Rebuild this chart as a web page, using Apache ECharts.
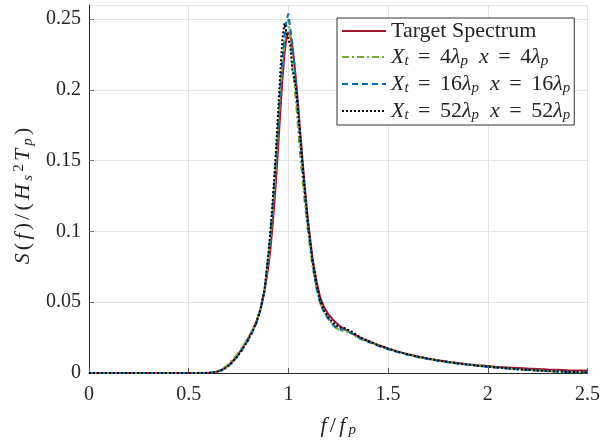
<!DOCTYPE html>
<html>
<head>
<meta charset="utf-8">
<script src="https://cdn.jsdelivr.net/npm/echarts@6/dist/echarts.min.js"></script>
<style>
html,body{margin:0;padding:0;background:#fff;}
#chart{width:603px;height:443px;}
</style>
</head>
<body>
<div id="chart"></div>
<script>
// ---- data ----
var freq = [0, 0.5, 0.6, 0.62, 0.64, 0.66, 0.68, 0.70, 0.72, 0.74, 0.76, 0.78, 0.80, 0.82, 0.84, 0.86, 0.88, 0.90,
  0.91, 0.92, 0.93, 0.94, 0.95, 0.96, 0.97, 0.98, 0.99, 1.00, 1.01, 1.02, 1.03, 1.04, 1.05, 1.06, 1.07, 1.08, 1.09, 1.10,
  1.12, 1.14, 1.16, 1.18, 1.20, 1.22, 1.24, 1.26, 1.28, 1.30, 1.32, 1.34, 1.36, 1.38, 1.40,
  1.45, 1.50, 1.55, 1.60, 1.65, 1.70, 1.75, 1.80, 1.85, 1.90, 1.95, 2.00, 2.05, 2.10, 2.15, 2.20, 2.25, 2.30, 2.35, 2.40, 2.45, 2.50];

var targetS = [0, 0, 0.0001, 0.0004, 0.0009, 0.0019, 0.0034, 0.0055, 0.0083, 0.0117, 0.0157, 0.0201, 0.0249, 0.0303, 0.0367, 0.0452, 0.0574, 0.0757,
  0.0881, 0.1029, 0.1207, 0.1409, 0.1629, 0.1857, 0.2072, 0.2249, 0.2368, 0.2408, 0.2382, 0.2307, 0.2189, 0.2040, 0.1871, 0.1693, 0.1520, 0.1350, 0.1196, 0.1059,
  0.0820, 0.0655, 0.0530, 0.0462, 0.0415, 0.0382, 0.0354, 0.0330, 0.0311, 0.0294, 0.0279, 0.0265, 0.0251, 0.0238, 0.0226,
  0.0198, 0.0173, 0.0151, 0.0133, 0.0116, 0.0102, 0.0090, 0.0079, 0.0070, 0.0062, 0.0055, 0.0049, 0.0043, 0.0039, 0.0035, 0.0031, 0.0028, 0.0025, 0.0023, 0.0020, 0.0018, 0.0017];

var x4S = [0, 0, 0.0002, 0.0005, 0.0011, 0.0022, 0.0040, 0.0063, 0.0095, 0.0128, 0.0166, 0.0208, 0.0252, 0.0300, 0.0360, 0.0450, 0.0585, 0.0800,
  0.0950, 0.1110, 0.1300, 0.1520, 0.1760, 0.1980, 0.2180, 0.2330, 0.2440, 0.2500, 0.2370, 0.2200, 0.2040, 0.1880, 0.1700, 0.1520, 0.1380, 0.1230, 0.1100, 0.0980,
  0.0760, 0.0600, 0.0490, 0.0430, 0.0380, 0.0350, 0.0320, 0.0295, 0.0300, 0.0290, 0.0275, 0.0255, 0.0240, 0.0232, 0.0222,
  0.0195, 0.0170, 0.0150, 0.0130, 0.0113, 0.0100, 0.0088, 0.0077, 0.0068, 0.0059, 0.0052, 0.0044, 0.0038, 0.0032, 0.0027, 0.0022, 0.0018, 0.0014, 0.0011, 0.0008, 0.0006, 0.0005];

var x16S = [0, 0, 0.0001, 0.0003, 0.0008, 0.0016, 0.0030, 0.0050, 0.0076, 0.0108, 0.0146, 0.0188, 0.0236, 0.0290, 0.0355, 0.0445, 0.0580, 0.0830,
  0.0990, 0.1160, 0.1360, 0.1580, 0.1800, 0.2020, 0.2210, 0.2370, 0.2490, 0.2540, 0.2430, 0.2320, 0.2180, 0.2010, 0.1830, 0.1650, 0.1480, 0.1310, 0.1160, 0.1020,
  0.0790, 0.0610, 0.0490, 0.0425, 0.0385, 0.0345, 0.0315, 0.0305, 0.0310, 0.0295, 0.0278, 0.0262, 0.0245, 0.0232, 0.0220,
  0.0192, 0.0168, 0.0147, 0.0128, 0.0112, 0.0098, 0.0086, 0.0075, 0.0066, 0.0058, 0.0050, 0.0043, 0.0037, 0.0031, 0.0026, 0.0021, 0.0017, 0.0013, 0.0010, 0.0007, 0.0005, 0.0004];

var x52S = [0, 0, 0.0001, 0.0003, 0.0008, 0.0017, 0.0031, 0.0051, 0.0078, 0.0110, 0.0148, 0.0190, 0.0238, 0.0292, 0.0358, 0.0448, 0.0590, 0.0850,
  0.1010, 0.1190, 0.1400, 0.1630, 0.1880, 0.2140, 0.2360, 0.2470, 0.2410, 0.2360, 0.2310, 0.2140, 0.2080, 0.1980, 0.1820, 0.1650, 0.1480, 0.1320, 0.1170, 0.1030,
  0.0800, 0.0630, 0.0510, 0.0440, 0.0395, 0.0360, 0.0335, 0.0320, 0.0318, 0.0305, 0.0290, 0.0270, 0.0250, 0.0238, 0.0226,
  0.0197, 0.0172, 0.0150, 0.0131, 0.0115, 0.0101, 0.0089, 0.0078, 0.0068, 0.0060, 0.0052, 0.0045, 0.0039, 0.0033, 0.0027, 0.0022, 0.0018, 0.0014, 0.0011, 0.0008, 0.0006, 0.0005];

var xTicks = {min: 0, max: 2.5, interval: 0.5};
var yTicks = {min: 0, max: 0.26, interval: 0.05};

// ---- chart ----
function zip(xs, ys) { return xs.map(function (x, i) { return [x, ys[i]]; }); }

var FONT = '"Liberation Serif", "Times New Roman", serif';
var TXT = '#262626';

function makeRich(size, pad, lh) {
  var p = [0, pad, 0, pad];
  var s = Math.round(size * 0.68);
  return {
    n: {fontFamily: FONT, fontSize: size, lineHeight: lh, color: TXT, padding: p},
    i: {fontFamily: FONT, fontSize: size, lineHeight: lh, fontStyle: 'italic', color: TXT, padding: p},
    eq: {fontFamily: FONT, fontSize: size, lineHeight: lh, color: TXT, padding: [0, 4, 0, 4]},
    sub: {fontFamily: FONT, fontSize: s, lineHeight: Math.round(lh * 0.55), fontStyle: 'italic', verticalAlign: 'bottom', color: TXT, padding: p},
    sup: {fontFamily: FONT, fontSize: s, lineHeight: Math.round(lh * 0.55), verticalAlign: 'top', color: TXT, padding: p}
  };
}
var legendRich = makeRich(22, 0, 24);
var nameRich = makeRich(22, 1.6, 24);

var legendLabels = {
  'Target Spectrum': '{n|Target Spectrum}',
  'X4': '{i|X}{sub|t}{eq| = }{n|4}{i|λ}{sub|p}{n|  }{i|x}{eq| = }{n|4}{i|λ}{sub|p}',
  'X16': '{i|X}{sub|t}{eq| = }{n|16}{i|λ}{sub|p}{n|  }{i|x}{eq| = }{n|16}{i|λ}{sub|p}',
  'X52': '{i|X}{sub|t}{eq| = }{n|52}{i|λ}{sub|p}{n|  }{i|x}{eq| = }{n|52}{i|λ}{sub|p}'
};

var chart = echarts.init(document.getElementById('chart'), null, {renderer: 'canvas'});
chart.setOption({
  animation: false,
  backgroundColor: '#fff',
  grid: {left: 89, right: 15, top: 5, bottom: 67, containLabel: false},
  legend: {
    orient: 'vertical',
    left: 337, top: 18,
    padding: [2, 4, 2, 4],
    itemWidth: 44, itemHeight: 14, itemGap: 4, itemTextGap: 5,
    backgroundColor: '#fff',
    borderColor: '#333', borderWidth: 1, borderRadius: 0,
    itemStyle: {opacity: 0},
    textStyle: {fontFamily: FONT, fontSize: 22, color: TXT, rich: legendRich},
    formatter: function (name) { return legendLabels[name]; },
    data: ['Target Spectrum', 'X4', 'X16', 'X52']
  },
  xAxis: {
    type: 'value', min: xTicks.min, max: xTicks.max, interval: xTicks.interval,
    name: '{i|f}{n|/}{i|f}{sub|p}', nameLocation: 'middle', nameGap: 41,
    nameTextStyle: {rich: nameRich},
    axisLine: {show: true, onZero: false, lineStyle: {color: TXT, width: 1}},
    axisTick: {show: true, inside: true, length: 5, lineStyle: {color: '#555'}},
    axisLabel: {margin: 12, fontFamily: FONT, fontSize: 20, color: TXT},
    splitLine: {show: true, lineStyle: {color: '#e3e3e3', width: 1}}
  },
  yAxis: {
    type: 'value', min: yTicks.min, max: yTicks.max, interval: yTicks.interval,
    name: '{i|S}{n|(}{i|f}{n|)}{n|/}{n|(}{i|H}{sub|s}{sup|2}{i|T}{sub|p}{n|)}',
    nameLocation: 'middle', nameGap: 52, nameRotate: 90,
    nameTextStyle: {rich: nameRich, padding: [0, 14, 0, 0]},
    axisLine: {show: true, onZero: false, lineStyle: {color: TXT, width: 1}},
    axisTick: {show: true, inside: true, length: 5, lineStyle: {color: '#777'}},
    axisLabel: {margin: 8, fontFamily: FONT, fontSize: 20, color: TXT},
    splitLine: {show: true, lineStyle: {color: '#e3e3e3', width: 1}}
  },
  series: [
    {name: 'Target Spectrum', type: 'line', data: zip(freq, targetS), showSymbol: false, symbol: 'none',
      lineStyle: {color: '#A2142F', width: 2, type: 'solid'}, itemStyle: {color: '#A2142F'}},
    {name: 'X4', type: 'line', data: zip(freq, x4S), showSymbol: false, symbol: 'none',
      lineStyle: {color: '#77AC30', width: 2, type: [7, 3, 2, 3]}, itemStyle: {color: '#77AC30'}},
    {name: 'X16', type: 'line', data: zip(freq, x16S), showSymbol: false, symbol: 'none',
      lineStyle: {color: '#0072BD', width: 2, type: [6, 4]}, itemStyle: {color: '#0072BD'}},
    {name: 'X52', type: 'line', data: zip(freq, x52S), showSymbol: false, symbol: 'none',
      lineStyle: {color: '#000000', width: 2, type: [2, 2]}, itemStyle: {color: '#000000'}}
  ]
});
</script>
</body>
</html>
